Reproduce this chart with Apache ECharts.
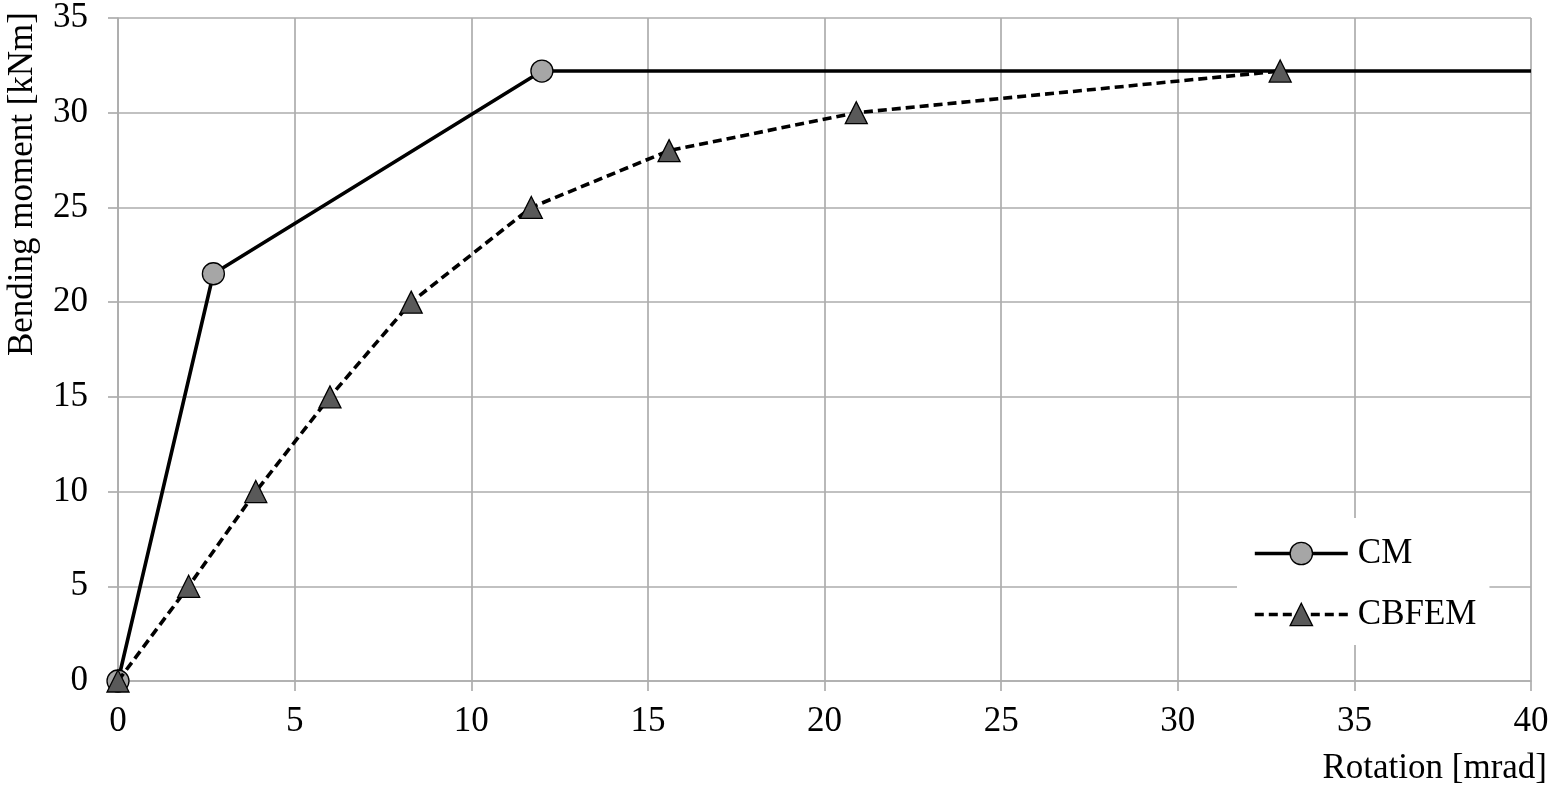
<!DOCTYPE html>
<html>
<head>
<meta charset="utf-8">
<script src="https://cdn.jsdelivr.net/npm/echarts@6/dist/echarts.min.js"></script>
<style>
  html, body { margin: 0; padding: 0; background: #fff; }
  #chart { width: 1557px; height: 795px; }
</style>
</head>
<body>
<div id="chart"></div>
<script>
// rotation [mrad], moment [kNm]
var cmRotation = [0, 2.7, 12.0, 40];
var cmMoment = [0, 21.5, 32.2, 32.2];
var cbfemRotation = [0, 2.0, 3.9, 6.0, 8.3, 11.7, 15.6, 20.9, 32.9];
var cbfemMoment = [0, 5, 10, 15, 20, 25, 28, 30, 32.2];

var FONT = '"Liberation Serif", "Times New Roman", serif';
var GRID_COLOR = '#ADADAD';

var cmData = cmRotation.map(function (x, i) {
  var p = { value: [x, cmMoment[i]] };
  // last point only carries the plateau to the edge, no marker
  if (i === cmRotation.length - 1) p.symbol = 'none';
  return p;
});
var cbfemData = cbfemRotation.map(function (x, i) {
  return [x, cbfemMoment[i]];
});

var myChart = echarts.init(document.getElementById('chart'));

var option = {
  backgroundColor: '#fff',
  animation: false,
  grid: { left: 118, right: 26, top: 18, bottom: 114, containLabel: false },
  xAxis: {
    type: 'value',
    min: 0,
    max: 40,
    interval: 5,
    axisLine: { show: true, lineStyle: { color: GRID_COLOR, width: 1.7 } },
    axisTick: { show: true, length: 10, lineStyle: { color: GRID_COLOR, width: 1.7 } },
    splitLine: { show: true, lineStyle: { color: GRID_COLOR, width: 1.7 } },
    axisLabel: { color: '#000', fontFamily: FONT, fontSize: 35, margin: 23 }
  },
  yAxis: {
    type: 'value',
    min: 0,
    max: 35,
    interval: 5,
    axisLine: { show: true, lineStyle: { color: GRID_COLOR, width: 1.7 } },
    axisTick: { show: true, length: 10, lineStyle: { color: GRID_COLOR, width: 1.7 } },
    splitLine: { show: true, lineStyle: { color: GRID_COLOR, width: 1.7 } },
    axisLabel: { color: '#000', fontFamily: FONT, fontSize: 35, margin: 30 }
  },
  legend: {
    orient: 'vertical',
    left: 1237,
    top: 518,
    padding: [18, 13, 13, 16],
    backgroundColor: '#fff',
    itemWidth: 93,
    itemHeight: 28,
    itemGap: 26,
    lineStyle: { width: 3.6 },
    itemStyle: { borderWidth: 1.3 },
    textStyle: { color: '#000', fontFamily: FONT, fontSize: 35, padding: [0, 0, 0, 5] },
    data: ['CM', 'CBFEM']
  },
  graphic: [
    {
      type: 'text',
      x: 23,
      y: 12,
      rotation: Math.PI / 2,
      style: {
        text: 'Bending moment [kNm]',
        fill: '#000',
        font: '35px ' + FONT,
        align: 'right',
        verticalAlign: 'middle'
      }
    },
    {
      type: 'text',
      x: 1547,
      y: 769,
      style: {
        text: 'Rotation [mrad]',
        fill: '#000',
        font: '35px ' + FONT,
        align: 'right',
        verticalAlign: 'middle'
      }
    }
  ],
  series: [
    {
      name: 'CM',
      type: 'line',
      data: cmData,
      symbol: 'circle',
      symbolSize: 22,
      clip: false,
      lineStyle: { color: '#000', width: 3.6 },
      itemStyle: { color: '#A6A6A6', borderColor: '#000', borderWidth: 1.3 },
      z: 3
    },
    {
      name: 'CBFEM',
      type: 'line',
      data: cbfemData,
      symbol: 'triangle',
      symbolSize: 22,
      clip: false,
      lineStyle: { color: '#000', width: 3.6, type: [9, 5] },
      itemStyle: { color: '#595959', borderColor: '#000', borderWidth: 1.3 },
      z: 4
    }
  ]
};

myChart.setOption(option);
</script>
</body>
</html>
